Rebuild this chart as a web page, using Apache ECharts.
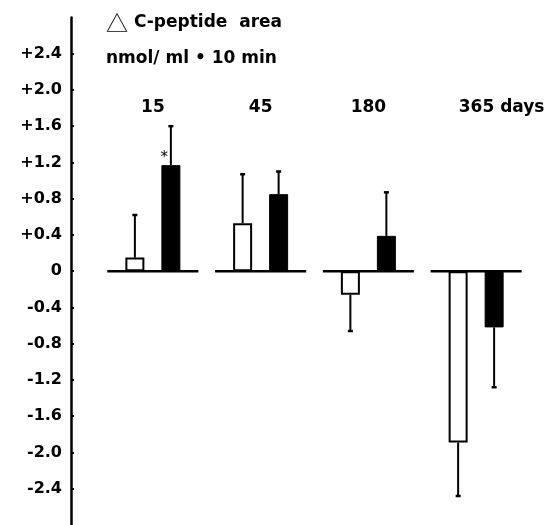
<!DOCTYPE html>
<html><head><meta charset="utf-8">
<script src="https://cdn.jsdelivr.net/npm/echarts@6/dist/echarts.min.js"></script>
<style>html,body{margin:0;padding:0;background:#fff}#c{width:556px;height:525px}</style>
</head><body><div id="c"></div>
<script>
const categories = ['15', '45', '180', '365'];
const categorySuffix = ['', '', '', ' days'];
const openValues = [0.15, 0.53, -0.26, -1.89];
const openErrEnds = [0.62, 1.07, -0.66, -2.48];
const filledValues = [1.17, 0.85, 0.39, -0.62];
const filledErrEnds = [1.60, 1.10, 0.87, -1.28];
const significant = [true, false, false, false];
const yTickValues = [-2.4, -2.0, -1.6, -1.2, -0.8, -0.4, 0, 0.4, 0.8, 1.2, 1.6, 2.0, 2.4];
const titleSymbol = '\u25B3';
const titleLines = [' C-peptide  area', 'nmol/ ml \u2022 10 min'];

const FONT = '"DejaVu Sans", Verdana, sans-serif';
const BAR_W = 19;
const BAR_OFF = 18;

function fmtY(v) {
  if (Math.abs(v) < 1e-9) return '0';
  return (v > 0 ? '+' : '-') + Math.abs(v).toFixed(1);
}

const chart = echarts.init(document.getElementById('c'), null, {renderer: 'canvas'});

const errData = (vals, ends) => vals.map((v, i) => [i, v, ends[i]]);

function errRender(offset) {
  return function (params, api) {
    const i = api.value(0);
    const p1 = api.coord([i, api.value(1)]);
    const p2 = api.coord([i, api.value(2)]);
    const x = p1[0] + offset;
    return {
      type: 'group',
      children: [
        {type: 'line', shape: {x1: x, y1: p1[1], x2: x, y2: p2[1]}, style: {stroke: '#000', lineWidth: 2}},
        {type: 'line', shape: {x1: x - 2.5, y1: p2[1], x2: x + 2.5, y2: p2[1]}, style: {stroke: '#000', lineWidth: 2.5}}
      ]
    };
  };
}

chart.setOption({
  animation: false,
  backgroundColor: '#fff',
  title: {
    text: '{t|' + titleSymbol + '}{b|' + titleLines[0] + '}\n{b|' + titleLines[1] + '}',
    left: 101, top: 0,
    textStyle: {
      fontFamily: FONT, fontWeight: 'bold', fontSize: 17, color: '#000', lineHeight: 36,
      rich: {
        t: {fontFamily: '"Noto Sans CJK SC", sans-serif', fontSize: 22, fontWeight: 'normal', color: '#000', lineHeight: 36},
        b: {fontFamily: FONT, fontWeight: 'bold', fontSize: 17, color: '#000', lineHeight: 36}
      }
    }
  },
  grid: {left: 99, right: 26, top: 17.4, height: 511},
  xAxis: {
    type: 'category',
    data: categories,
    position: 'top',
    axisLine: {show: false},
    axisTick: {show: false},
    splitLine: {show: false},
    axisLabel: {
      inside: true,
      interval: 0,
      hideOverlap: false,
      margin: 82,
      color: '#000',
      fontFamily: FONT,
      fontWeight: 'bold',
      fontSize: 17,
      formatter: (v, i) => categorySuffix[i] ? '{p|}' + v + categorySuffix[i] : v,
      rich: {p: {width: 51}}
    }
  },
  yAxis: {
    type: 'value',
    min: -2.8, max: 2.8, interval: 0.4,
    offset: 28,
    splitLine: {show: false},
    axisLine: {show: true, lineStyle: {color: '#000', width: 2.5}},
    axisTick: {show: true, inside: true, length: 3, lineStyle: {color: '#000', width: 2}, customValues: yTickValues},
    axisLabel: {
      color: '#000', fontFamily: FONT, fontWeight: 'bold', fontSize: 16, margin: 9,
      verticalAlign: 'middle',
      padding: [0, 0, 16, 0],
      customValues: yTickValues,
      formatter: fmtY
    }
  },
  series: [
    {
      type: 'custom',
      name: 'baseline',
      data: categories.map((c, i) => [i]),
      renderItem: function (params, api) {
        const p = api.coord([api.value(0), 0]);
        const half = api.size([1, 0])[0] * 0.845 / 2;
        return {type: 'line', shape: {x1: p[0] - half, y1: p[1], x2: p[0] + half, y2: p[1]}, style: {stroke: '#000', lineWidth: 2.5}};
      },
      z: 3
    },
    {
      type: 'bar',
      name: 'open',
      data: openValues,
      barWidth: BAR_W,
      barGap: ((2 * BAR_OFF - BAR_W) / BAR_W * 100) + '%',
      itemStyle: {color: '#fff', borderColor: '#000', borderWidth: 2},
      z: 2
    },
    {
      type: 'bar',
      name: 'filled',
      data: filledValues.map((v, i) => significant[i]
        ? {value: v, label: {show: true, formatter: '*', position: [-1, -15], color: '#000', fontSize: 15, fontFamily: FONT}}
        : v),
      barWidth: BAR_W,
      itemStyle: {color: '#000', borderColor: '#000', borderWidth: 1},
      z: 2
    },
    {type: 'custom', name: 'openErr', data: errData(openValues, openErrEnds), renderItem: errRender(-BAR_OFF), z: 1},
    {type: 'custom', name: 'filledErr', data: errData(filledValues, filledErrEnds), renderItem: errRender(BAR_OFF), z: 1}
  ]
});
</script></body></html>
